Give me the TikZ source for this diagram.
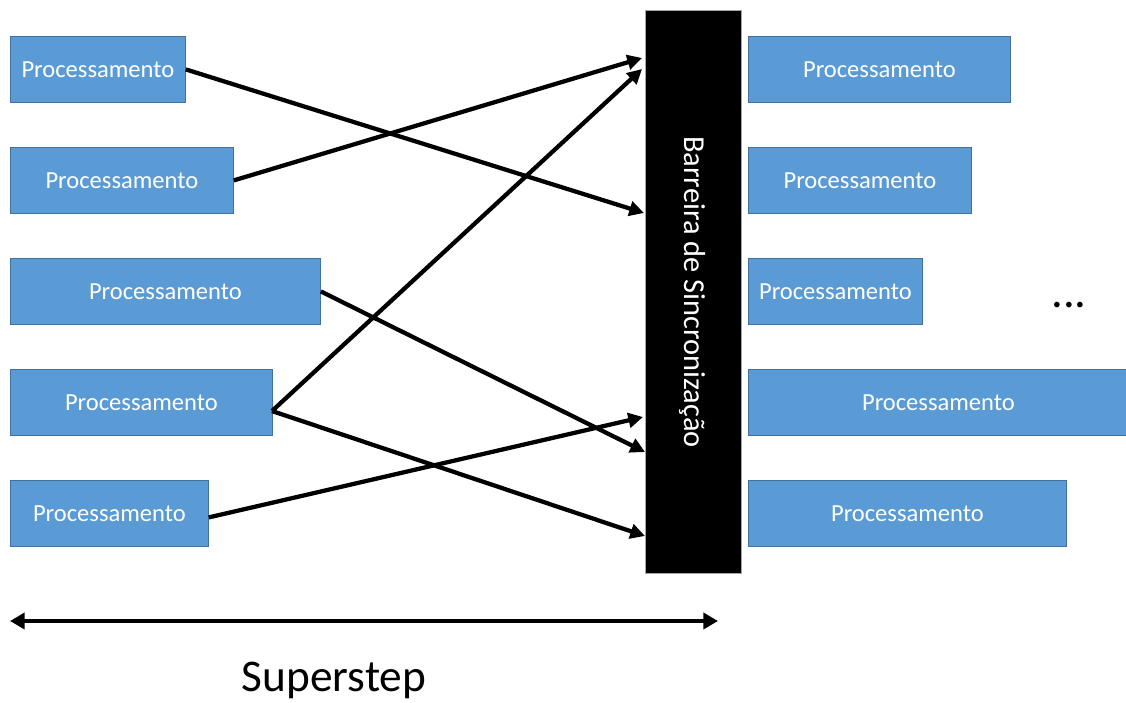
\documentclass[tikz,border=0pt]{standalone}
\usepackage{fontspec}
\setmainfont{Carlito}
\usetikzlibrary{arrows.meta,calc}
\definecolor{boxblue}{HTML}{5B9BD5}
\definecolor{boxedge}{HTML}{41719C}
\begin{document}
\begin{tikzpicture}[x=0.75pt,y=-0.75pt,
  proc/.style={draw=boxedge,line width=0.6pt,fill=boxblue,text=white,anchor=north west,
    inner sep=0pt,minimum height=66*0.75pt,font=\fontsize{18.4}{22}\selectfont},
  conn/.style={line width=3.2pt,-{Triangle[length=11pt,width=11pt]}},
  ]
\useasboundingbox (0,0) rectangle (1126,702);
% left column
\node[proc,minimum width=175*0.75pt] (l1) at (10,36) {Processamento};
\node[proc,minimum width=223*0.75pt] (l2) at (10,147) {Processamento};
\node[proc,minimum width=310*0.75pt] (l3) at (10,258) {Processamento};
\node[proc,minimum width=262*0.75pt] (l4) at (10,369) {Processamento};
\node[proc,minimum width=198*0.75pt] (l5) at (10,480) {Processamento};
% right column
\node[proc,minimum width=262*0.75pt] (r1) at (748,36) {Processamento};
\node[proc,minimum width=223*0.75pt] (r2) at (748,147) {Processamento};
\node[proc,minimum width=174*0.75pt] (r3) at (748,258) {Processamento};
\node[proc,minimum width=380*0.75pt] (r4) at (748,369) {Processamento};
\node[proc,minimum width=318*0.75pt] (r5) at (748,480) {Processamento};
% barrier
\node[draw=gray!70,line width=0.6pt,fill=black,anchor=north west,inner sep=0pt,
  minimum width=96*0.75pt,minimum height=563*0.75pt] (bar) at (645,10) {};
\node[text=white,rotate=-90,font=\fontsize{22.8}{27}\selectfont] (bartext) at (692,292) {Barreira de Sincronização};
% ellipsis
\node[font=\fontsize{35}{40}\selectfont,anchor=base,inner sep=0pt] (dots) at (1069,307) {...};
% connector endpoints on barrier
\coordinate (e1) at (644,213);
\coordinate (e2) at (642,58);
\coordinate (e3) at (645,452);
\coordinate (e4a) at (642,69);
\coordinate (e4b) at (645,536);
\coordinate (e5) at (643,417);
\coordinate (s4) at (272,411);
\draw[conn] (l1.east) -- (e1);
\draw[conn] (l2.east) -- (e2);
\draw[conn] (l3.east) -- (e3);
\draw[conn] (s4) -- (e4a);
\draw[conn] (s4) -- (e4b);
\draw[conn] ($(l5.east)+(0,4)$) -- (e5);
% superstep
\coordinate (sa) at (10,621);
\coordinate (sb) at (718,621);
\draw[line width=3.2pt,{Triangle[length=11pt,width=12pt]}-{Triangle[length=11pt,width=12pt]}] (sa) -- (sb);
\node[font=\fontsize{34}{40}\selectfont] (ss) at (334,680) {Superstep};
\end{tikzpicture}
\end{document}
